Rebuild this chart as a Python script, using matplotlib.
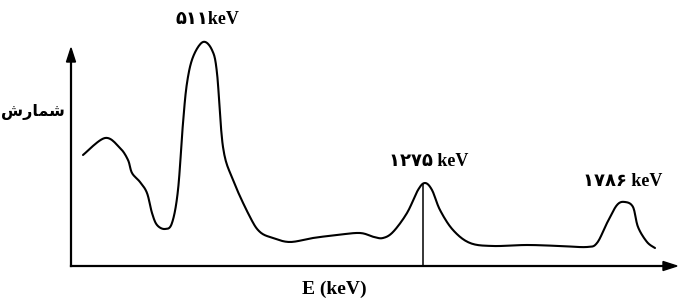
import matplotlib
matplotlib.use("Agg")
import matplotlib.pyplot as plt
import numpy as np
from matplotlib.patches import Polygon

# Schematic spectrum: channel (horizontal position) vs counts
channel = [12, 34, 49, 57, 61, 69, 76, 81, 86, 94, 101, 107, 112, 116, 122, 132, 141,
           146, 152, 162, 179, 189, 202, 219, 242, 266, 289, 303, 312, 322, 336, 347,
           354, 361, 369, 382, 399, 422, 456, 489, 516, 526, 536, 546, 554, 562, 567,
           576, 584]
counts = [111, 128, 118, 106, 93, 84, 73, 53, 41, 37, 43, 76, 143, 183, 209, 224, 216,
          193, 119, 86, 49, 34, 28, 24, 28, 31, 33, 29, 28, 34, 53, 76, 83, 76, 56, 36,
          23, 20, 21, 20, 19, 23, 43, 61, 64, 59, 39, 24, 18]
peak_511 = (131, "\u06f5\u06f1\u06f1keV")
peak_1275 = (352, "\u06f1\u06f2\u06f7\u06f5 keV")
peak_1786 = (554, "\u06f1\u06f7\u06f8\u06f6 keV")
ylabel = "\ufeb5\ufead\ufe8e\ufee4\ufeb7"  # شمارش (visual order, shaped)
xlabel = "E (keV)"

fig = plt.figure(figsize=(6.78, 2.99), dpi=100)
ax = fig.add_axes([0, 0, 1, 1])
ax.set_xlim(-71, 607)
ax.set_ylim(-33, 266)
ax.axis("off")

# smooth curve through traced points (Catmull-Rom)
x = np.array(channel, float)
y = np.array(counts, float)
xs, ys = [], []
P = np.column_stack([x, y])
P = np.vstack([P[0], P, P[-1]])
for i in range(1, len(P) - 2):
    p0, p1, p2, p3 = P[i - 1], P[i], P[i + 1], P[i + 2]
    for t in np.linspace(0, 1, 12, endpoint=False):
        t2, t3 = t * t, t * t * t
        pt = 0.5 * ((2 * p1) + (-p0 + p2) * t + (2 * p0 - 5 * p1 + 4 * p2 - p3) * t2 + (-p0 + 3 * p1 - 3 * p2 + p3) * t3)
        xs.append(pt[0]); ys.append(pt[1])
xs.append(P[-2][0]); ys.append(P[-2][1])
ax.plot(xs, ys, color="black", lw=1.5, solid_capstyle="round")

# axes with arrows
ax.plot([0, 0], [0, 205], color="black", lw=1.6)
ax.plot([0, 598], [0, 0], color="black", lw=1.6)
ax.add_patch(Polygon([[-4.5, 204], [4.5, 204], [0, 218]], closed=True, color="black"))
ax.add_patch(Polygon([[592, -4.5], [592, 4.5], [606, 0]], closed=True, color="black"))

# marker line at 1275 peak
ix = int(np.argmin(np.abs(np.array(xs) - peak_1275[0])))
ax.plot([peak_1275[0], peak_1275[0]], [0, ys[ix]], color="black", lw=1.1)

fam = ["Liberation Serif", "DejaVu Sans"]
ax.text(peak_511[0] + 5, 246, peak_511[1], ha="center", va="center", fontsize=13,
        fontweight="bold", family=fam)
ax.text(peak_1275[0] + 6, 104, peak_1275[1], ha="center", va="center", fontsize=13,
        fontweight="bold", family=fam)
ax.text(peak_1786[0] - 2, 84, peak_1786[1], ha="center", va="center", fontsize=13,
        fontweight="bold", family=fam)
ax.text(-38, 154, ylabel, ha="center", va="center", fontsize=11.5, fontweight="bold",
        family=["DejaVu Sans"])
ax.text(263, -23, xlabel, ha="center", va="center", fontsize=14, fontweight="bold",
        family=fam)

fig.savefig("out.png", dpi=100)
